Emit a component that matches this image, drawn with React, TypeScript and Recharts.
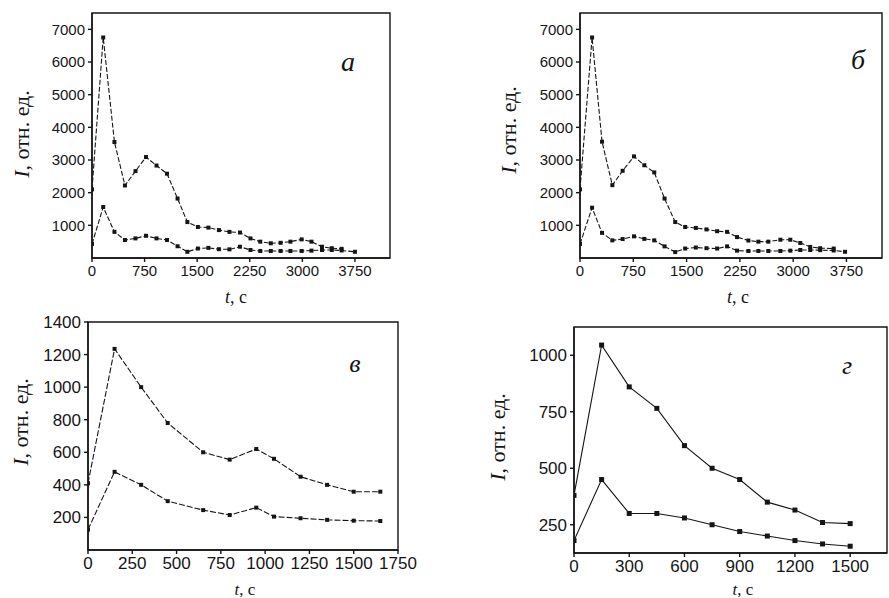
import { LineChart, Line, XAxis, YAxis, ReferenceArea } from "recharts";

// panel а
const TIME_A = [0, 160, 320, 470, 620, 770, 920, 1070, 1220, 1360, 1510, 1660, 1810, 1960, 2110, 2260, 2400, 2550, 2690, 2830, 2990, 3130, 3280, 3420, 3560, 3750];
const UPPER_A = [2100, 6750, 3550, 2220, 2660, 3090, 2830, 2580, 1820, 1100, 950, 930, 855, 800, 780, 600, 500, 450, 465, 500, 570, 500, 345, 300, 280, null];
const LOWER_A = [430, 1560, 800, 550, 600, 680, 600, 550, 360, 190, 290, 310, 270, 265, 345, 245, 215, 215, 215, 215, 215, 225, 245, 245, 230, 190];

// panel б
const TIME_B = [0, 170, 310, 455, 600, 760, 905, 1045, 1190, 1340, 1480, 1630, 1780, 1930, 2070, 2210, 2370, 2510, 2650, 2820, 2960, 3100, 3240, 3380, 3570, 3730];
const UPPER_B = [2100, 6750, 3560, 2230, 2670, 3110, 2840, 2620, 1820, 1100, 950, 920, 875, 820, 800, 640, 535, 500, 500, 560, 560, 460, 340, 300, 290, null];
const LOWER_B = [430, 1540, 770, 540, 580, 663, 585, 540, 356, 181, 290, 320, 300, 290, 356, 225, 215, 215, 215, 215, 225, 245, 245, 240, 230, 190];

// panel в
const TIME_V = [0, 150, 300, 450, 650, 800, 950, 1050, 1200, 1350, 1500, 1650];
const UPPER_V = [410, 1235, 1000, 780, 600, 555, 620, 560, 450, 400, 358, 358];
const LOWER_V = [125, 480, 400, 300, 245, 215, 260, 205, 195, 185, 180, 178];

// panel г
const TIME_G = [0, 150, 300, 450, 600, 750, 900, 1050, 1200, 1350, 1500];
const UPPER_G = [380, 1045, 860, 765, 600, 500, 450, 350, 315, 260, 255];
const LOWER_G = [180, 450, 300, 300, 280, 250, 220, 200, 180, 165, 155];

const TICKS_X_AB = [0, 750, 1500, 2250, 3000, 3750];
const TICKS_Y_AB = [1000, 2000, 3000, 4000, 5000, 6000, 7000];
const TICKS_X_V = [0, 250, 500, 750, 1000, 1250, 1500, 1750];
const TICKS_Y_V = [200, 400, 600, 800, 1000, 1200, 1400];
const TICKS_X_G = [0, 300, 600, 900, 1200, 1500];
const TICKS_Y_G = [250, 500, 750, 1000];

const INK = "#151515";
const SERIF = '"Liberation Serif", "Times New Roman", serif';
const SANS = '"Liberation Sans", Arial, sans-serif';

const points = (time: number[], values: (number | null)[]) =>
  time.map((t, i) => ({ t, v: values[i] })).filter((p) => p.v !== null);

const squareDot = (size: number) => (props: any) => {
  const { cx, cy, index } = props;
  if (cx == null || cy == null) return <g key={index} />;
  return <rect key={index} x={cx - size / 2} y={cy - size / 2} width={size} height={size} fill={INK} />;
};

interface PanelProps {
  left: number;
  top: number;
  width: number;
  height: number;
  margin: { top: number; right: number; bottom: number; left: number };
  time: number[];
  upper: (number | null)[];
  lower: (number | null)[];
  xDomain: [number, number];
  yDomain: [number, number];
  xTicks: number[];
  yTicks: number[];
  fontSize: number;
  dash?: string;
  dot: number;
}

const Panel = (p: PanelProps) => {
  const tick = { fill: INK, fontSize: p.fontSize, fontFamily: SANS };
  return (
    <div style={{ position: "absolute", left: p.left, top: p.top }}>
      <LineChart width={p.width} height={p.height} margin={p.margin}>
        <XAxis
          type="number"
          dataKey="t"
          domain={p.xDomain}
          ticks={p.xTicks}
          allowDataOverflow
          height={30}
          tick={tick}
          tickSize={4}
          tickMargin={3}
          stroke={INK}
          strokeWidth={1.4}
        />
        <YAxis
          type="number"
          domain={p.yDomain}
          ticks={p.yTicks}
          allowDataOverflow
          width={70}
          tick={tick}
          tickSize={4}
          tickMargin={3}
          stroke={INK}
          strokeWidth={1.4}
        />
        {/* frame around the plot area */}
        <ReferenceArea
          x1={p.xDomain[0]}
          x2={p.xDomain[1]}
          y1={p.yDomain[0]}
          y2={p.yDomain[1]}
          fill="none"
          stroke={INK}
          strokeWidth={1.4}
          ifOverflow="visible"
        />
        <Line
          data={points(p.time, p.upper)}
          dataKey="v"
          stroke={INK}
          strokeWidth={1.1}
          strokeDasharray={p.dash}
          dot={squareDot(p.dot)}
          isAnimationActive={false}
        />
        <Line
          data={points(p.time, p.lower)}
          dataKey="v"
          stroke={INK}
          strokeWidth={1.1}
          strokeDasharray={p.dash}
          dot={squareDot(p.dot)}
          isAnimationActive={false}
        />
      </LineChart>
    </div>
  );
};

const Note = ({ x, y, size, rotate, children }: { x: number; y: number; size: number; rotate?: boolean; children: any }) => (
  <div
    style={{
      position: "absolute",
      left: x,
      top: y,
      transform: `translate(-50%, -50%)${rotate ? " rotate(-90deg)" : ""}`,
      whiteSpace: "nowrap",
      fontFamily: SERIF,
      fontSize: size,
      color: INK,
      lineHeight: 1,
    }}
  >
    {children}
  </div>
);

const App = () => {
  return (
    <div style={{ position: "absolute", left: 0, top: 0, width: 889, height: 598, background: "#fff", overflow: "hidden" }}>
      <Panel
        left={0}
        top={0}
        width={440}
        height={305}
        margin={{ top: 13, right: 50, bottom: 17, left: 22 }}
        time={TIME_A}
        upper={UPPER_A}
        lower={LOWER_A}
        xDomain={[0, 4250]}
        yDomain={[0, 7500]}
        xTicks={TICKS_X_AB}
        yTicks={TICKS_Y_AB}
        fontSize={15}
        dash="5 2"
        dot={4}
      />
      <Panel
        left={445}
        top={0}
        width={444}
        height={305}
        margin={{ top: 13, right: 7, bottom: 17, left: 65 }}
        time={TIME_B}
        upper={UPPER_B}
        lower={LOWER_B}
        xDomain={[0, 4250]}
        yDomain={[0, 7500]}
        xTicks={TICKS_X_AB}
        yTicks={TICKS_Y_AB}
        fontSize={15}
        dash="5 2"
        dot={4}
      />
      <Panel
        left={0}
        top={305}
        width={440}
        height={293}
        margin={{ top: 17, right: 42, bottom: 18, left: 18 }}
        time={TIME_V}
        upper={UPPER_V}
        lower={LOWER_V}
        xDomain={[0, 1750]}
        yDomain={[0, 1400]}
        xTicks={TICKS_X_V}
        yTicks={TICKS_Y_V}
        fontSize={17}
        dash="6 2"
        dot={4}
      />
      <Panel
        left={445}
        top={305}
        width={444}
        height={293}
        margin={{ top: 22, right: 2, bottom: 15, left: 59 }}
        time={TIME_G}
        upper={UPPER_G}
        lower={LOWER_G}
        xDomain={[0, 1700]}
        yDomain={[125, 1125]}
        xTicks={TICKS_X_G}
        yTicks={TICKS_Y_G}
        fontSize={17}
        dot={5}
      />

      <Note x={22} y={134} size={22} rotate><i>I</i>, отн. ед.</Note>
      <Note x={509} y={130} size={22} rotate><i>I</i>, отн. ед.</Note>
      <Note x={21} y={422} size={22} rotate><i>I</i>, отн. ед.</Note>
      <Note x={498} y={437} size={22} rotate><i>I</i>, отн. ед.</Note>

      <Note x={236} y={297} size={18}><i>t</i>, с</Note>
      <Note x={738} y={297} size={18}><i>t</i>, с</Note>
      <Note x={245} y={589} size={17}><i>t</i>, с</Note>
      <Note x={743} y={589} size={17}><i>t</i>, с</Note>

      <Note x={348} y={62} size={28}><i>а</i></Note>
      <Note x={858} y={60} size={28}><i>б</i></Note>
      <Note x={355} y={364} size={26}><i>в</i></Note>
      <Note x={847} y={366} size={26}><i>г</i></Note>
    </div>
  );
};

export default App;
